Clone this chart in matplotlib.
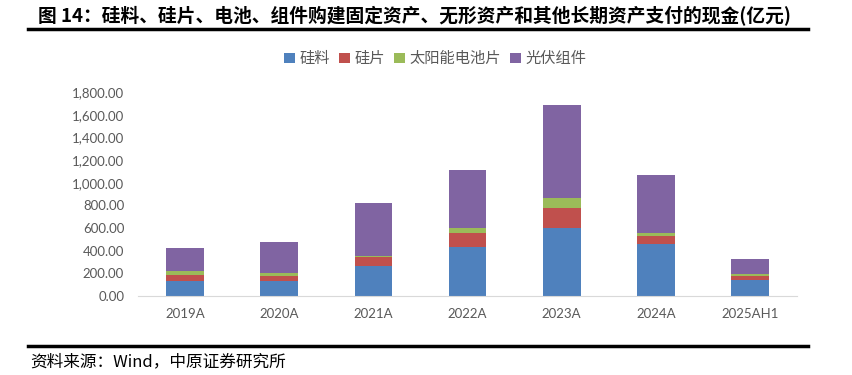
import matplotlib
matplotlib.use('Agg')
import matplotlib.pyplot as plt
from matplotlib.lines import Line2D
import numpy as np

plt.rcParams['font.family'] = ['Lato', 'Noto Sans CJK SC', 'DejaVu Sans']

years = ['2019A', '2020A', '2021A', '2022A', '2023A', '2024A', '2025AH1']
silicon = [134, 134, 263, 433, 603, 456, 140]     # 硅料
wafer = [50, 42, 84, 123, 176, 77, 38]            # 硅片
cell = [38, 29, 7, 44, 84, 23, 12]                # 太阳能电池片
module = [203, 269, 465, 515, 823, 515, 135]      # 光伏组件

series = [('硅料', silicon, '#4F81BD'),
          ('硅片', wafer, '#C0504D'),
          ('太阳能电池片', cell, '#9BBB59'),
          ('光伏组件', module, '#8064A2')]

grey = '#595959'
fig = plt.figure(figsize=(8.52, 3.75), dpi=100)
ax = fig.add_axes([0.162, 0.2107, 0.7735, 0.5432])

x = np.arange(len(years))
bottom = np.zeros(len(years))
for name, vals, col in series:
    ax.bar(x, vals, 0.4, bottom=bottom, color=col, label=name, zorder=2)
    bottom += np.array(vals)

ax.set_xlim(-0.5, len(years) - 0.5)
ax.set_ylim(0, 1800)
ax.set_yticks(np.arange(0, 1801, 200))
ax.set_yticklabels([f'{v:,.2f}' for v in np.arange(0, 1801, 200)])
ax.set_xticks(x)
ax.set_xticklabels(years)
for s in ['top', 'right', 'left']:
    ax.spines[s].set_visible(False)
ax.spines['bottom'].set_color('#D9D9D9')
ax.tick_params(axis='both', length=0, colors=grey, labelsize=9.5)
ax.tick_params(axis='x', pad=9)
ax.tick_params(axis='y', pad=10)

leg = fig.legend(loc='center', bbox_to_anchor=(0.511, 0.843), ncol=4, frameon=False,
                 prop={'family': ['Noto Sans CJK SC'], 'size': 11},
                 handlelength=0.7, handleheight=0.7, handletextpad=0.3, columnspacing=0.6)
for t in leg.get_texts():
    t.set_color(grey)

fig.text(0.045, 0.957, '图 14：硅料、硅片、电池、组件购建固定资产、无形资产和其他长期资产支付的现金(亿元)',
         family=['Noto Sans CJK SC'], fontsize=13.5, fontweight='bold', va='center', ha='left')
fig.add_artist(Line2D([0.033, 0.948], [0.923, 0.923], color='black', lw=2.5))
fig.add_artist(Line2D([0.033, 0.948], [0.078, 0.078], color='black', lw=2.5))
fig.text(0.036, 0.035, '资料来源：Wind，中原证券研究所', family=['Noto Sans CJK SC'],
         fontsize=12, va='center', ha='left')

plt.savefig('out.png', dpi=100)
